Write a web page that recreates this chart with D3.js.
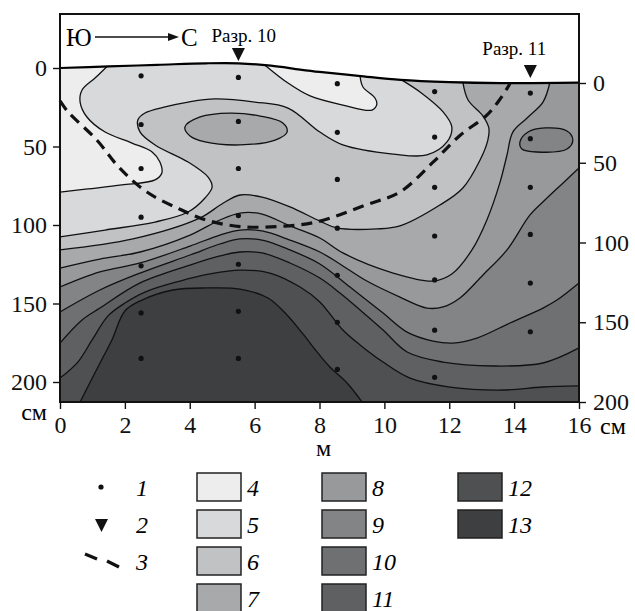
<!DOCTYPE html>
<html>
<head>
<meta charset="utf-8">
<script src="https://cdn.jsdelivr.net/npm/d3@7"></script>
<style>
  body { margin: 0; background: #fff; }
  text { font-family: "Liberation Serif", "DejaVu Serif", serif; }
</style>
</head>
<body>
<script>
// ---- data (x in m, depth in cm) ----
const surface = [[0,0],[1.5,-1],[3,-2],[4.5,-3],[5.5,-3],[6.5,-1.5],[7.4,1],[8,2.5],[9.2,5],[10.5,7.6],[12,9],[13.6,9.6],[16,9.3]];

// isolines between classes
const iso45 = [[1.45,-1],[1.08,6.4],[0.68,14],[0.62,21.7],[0.83,31.2],[1.39,40.8],[2.22,47.8],[2.84,53.5],[3.08,59.9],[3.14,66.9],[2.93,71.3],[1.91,74.5],[0.86,77],[0,79]];
const patch4 = [[6.32,-1.8],[7.03,9.6],[7.71,17.8],[8.72,23.6],[9.62,26.8],[9.77,22.9],[9.71,19.1],[9.34,12.1],[9.25,5.1]];
const iso56 = [[0,107.6],[1.39,103.2],[2.93,98.1],[3.95,91.7],[4.47,82.8],[4.69,75.8],[4.56,69.4],[3.95,59.9],[2.93,49],[2.47,40.8],[2.4,33.1],[2.62,28.7],[3.24,24.8],[3.95,21.7],[4.78,19.7],[6.01,21.7],[7.03,25.5],[8.01,40.8],[8.72,49],[10.27,54.8],[11.31,55.4],[11.93,47.1],[12.08,37.6],[11.81,28],[11.1,15.3],[10.54,7.7]];
const island7 = [[3.85,37.6],[4.32,31.2],[5.24,28.7],[6.17,30.6],[6.87,35],[7,40.8],[6.63,45.9],[5.55,49],[4.47,47.1],[4.01,43.3]];
const iso67 = [[0,115.9],[2.25,108.9],[4.32,95.5],[4.99,86.6],[5.55,80.9],[6.23,82.2],[7.09,88.5],[8.01,97.5],[8.54,101.9],[9.77,102.5],[10.48,100.6],[11.71,87.3],[12.42,76.4],[12.95,58.6],[13.19,45.9],[13.22,38.2],[13.04,30.6],[12.58,20.4],[12.42,9.2]];
const iso78 = [[0,127.4],[1.23,121.7],[2.47,117.2],[4.01,106.4],[4.93,96.8],[5.55,92.4],[6.23,93],[7.09,100.6],[8.01,108.3],[8.72,117.8],[10.27,130.6],[11.5,135.7],[12.08,131.2],[12.7,115.9],[13.16,96.8],[13.56,73.2],[13.78,55.4],[13.96,40.8],[14.4,31.8],[14.89,21.7],[15.1,9.4]];
const island9 = [[14.18,47.1],[14.43,40.8],[14.95,38.2],[15.63,40.1],[15.81,45.9],[15.63,51.6],[14.7,53.5],[14.24,51.6]];
const iso89 = [[0,139.5],[1.23,129.9],[2.47,124.2],[4.01,113.4],[4.93,106.4],[5.55,103.2],[6.23,103.8],[7.09,109.6],[8.01,117.2],[8.63,124.8],[9.46,135.7],[10.48,145.9],[11.31,152.9],[11.81,152.2],[12.33,146.5],[13.04,131.8],[13.78,115.9],[14.49,93.6],[14.95,84.1],[15.51,73.2],[16,63.7]];
const iso910 = [[0,155.4],[1.23,141.4],[2.47,130.6],[4.01,119.1],[4.93,112.1],[5.55,108.9],[6.23,109.6],[7.09,115.9],[8.01,124.8],[8.94,139.5],[9.96,156.1],[10.7,168.2],[11.5,173.9],[12.11,175.2],[12.85,172],[13.87,162.4],[14.89,152.9],[15.32,147.8],[16,136.9]];
const iso1011 = [[0,175.2],[0.68,160.5],[1.23,152.9],[2.47,136.9],[4.01,125.5],[4.93,119.7],[5.55,117.2],[6.23,117.8],[7.09,124.2],[8.01,133.8],[8.63,143.3],[9.25,154.1],[9.96,166.9],[10.7,180.9],[11.81,187.3],[13.35,189.8],[14.89,187.9],[16,178.3]];
const iso1112 = [[0,197.5],[0.55,187.3],[0.99,173.2],[1.48,157.9],[2,149.7],[2.62,142.7],[3.7,135.7],[4.62,131.2],[5.55,128.7],[6.47,130.6],[7.4,139.5],[8.01,149],[8.72,166.9],[9.25,176.4],[9.96,187.3],[10.79,197.5],[12.02,203.2],[13.66,205.1],[14.89,203.2],[16,202.5]];
const iso1213 = [[0.62,212.7],[1.17,190.4],[1.6,173.2],[2,154.8],[2.53,147.8],[3.48,141.4],[4.53,140.1],[5.55,140.8],[6.41,146.5],[6.97,156.7],[7.49,169.4],[7.95,181.5],[8.32,190.4],[8.85,200.6],[9.31,212.7]];

const boundary = [[0,21],[0.25,28],[1.14,46],[1.85,64],[2.68,79],[3.7,90],[4.53,97],[5.55,101],[6.69,101],[7.92,98],[9.46,87],[10.48,79],[11.5,60],[12.33,43],[13.16,30],[13.56,20],[13.87,10]];

const sampleX = [2.5, 5.5, 8.55, 11.55, 14.5];
const sampleDepths = [
  [5, 36, 64, 95, 126, 156, 185],
  [6, 34, 64, 94, 125, 155, 185],
  [10, 41, 71, 102, 132, 162, 192],
  [15, 44, 76, 107, 135, 167, 197],
  [16, 45, 76, 106, 137, 168]
];
const profileNames = ['Разр. 10', 'Разр. 11'];
const profileX = [5.5, 14.5];
const profileTip = [-4.5, 6.4];

const classes = [4,5,6,7,8,9,10,11,12,13];
const classColors = ['#ededed','#d8d9db','#c1c2c4','#a8a9ab','#98999b','#838486','#6f7072','#5f6062','#4f5052','#3e3f41'];
const xTicks = [0,2,4,6,8,10,12,14,16];
const yTicks = [0,50,100,150,200];

// ---- layout ----
const W = 635, H = 611;
const svg = d3.select('body').append('svg').attr('width', W).attr('height', H);
const x = d3.scaleLinear().domain([0,16]).range([60,579]);
const y = d3.scaleLinear().domain([0,200]).range([68,382]);
const yR = d3.scaleLinear().domain([0,200]).range([83,402]);
const topD = y.invert(14), botD = y.invert(402);
const col = k => classColors[classes.indexOf(k)];

const lineGen = d3.line().x(d => x(d[0])).y(d => y(d[1])).curve(d3.curveCatmullRom.alpha(0.5));
const closedGen = d3.line().x(d => x(d[0])).y(d => y(d[1])).curve(d3.curveCatmullRomClosed.alpha(0.5));

// smooth boundary + straight closing legs
function region(pts, extra){
  let p = lineGen(pts);
  extra.forEach(e => { p += 'L' + x(e[0]) + ',' + y(e[1]); });
  return p + 'Z';
}
const last = a => a[a.length-1];

const g = svg.append('g');
// base class 5
g.append('rect').attr('x', x(0)).attr('y', y(topD)).attr('width', x(16)-x(0)).attr('height', y(botD)-y(topD)).attr('fill', col(5));
g.append('path').attr('d', region(iso45, [[0,topD],[iso45[0][0],topD]])).attr('fill', col(4));
g.append('path').attr('d', region(patch4, [[last(patch4)[0],topD],[patch4[0][0],topD]])).attr('fill', col(4));
g.append('path').attr('d', region(iso56, [[last(iso56)[0],topD],[16,topD],[16,botD],[0,botD]])).attr('fill', col(6));
g.append('path').attr('d', closedGen(island7)).attr('fill', col(7));
g.append('path').attr('d', region(iso67, [[last(iso67)[0],topD],[16,topD],[16,botD],[0,botD]])).attr('fill', col(7));
g.append('path').attr('d', region(iso78, [[last(iso78)[0],topD],[16,topD],[16,botD],[0,botD]])).attr('fill', col(8));
g.append('path').attr('d', closedGen(island9)).attr('fill', col(9));
g.append('path').attr('d', region(iso89, [[16,botD],[0,botD]])).attr('fill', col(9));
g.append('path').attr('d', region(iso910, [[16,botD],[0,botD]])).attr('fill', col(10));
g.append('path').attr('d', region(iso1011, [[16,botD],[0,botD]])).attr('fill', col(11));
g.append('path').attr('d', region(iso1112, [[16,botD],[0,botD]])).attr('fill', col(12));
g.append('path').attr('d', region(iso1213, [])).attr('fill', col(13));

// white above ground surface
g.append('path').attr('d', region(surface, [[16,topD],[0,topD]])).attr('fill', '#fff');

// isolines
const openLines = [iso45, patch4, iso56, iso67, iso78, iso89, iso910, iso1011, iso1112, iso1213];
g.selectAll('path.iso').data(openLines).enter().append('path').attr('class','iso')
  .attr('d', lineGen).attr('fill','none').attr('stroke','#111').attr('stroke-width',1.3);
g.selectAll('path.isl').data([island7, island9]).enter().append('path').attr('class','isl')
  .attr('d', closedGen).attr('fill','none').attr('stroke','#111').attr('stroke-width',1.3);

// surface
g.append('path').attr('d', lineGen(surface)).attr('fill','none').attr('stroke','#000').attr('stroke-width',2.2);

// dashed boundary
g.append('path').attr('d', lineGen(boundary)).attr('fill','none').attr('stroke','#111')
  .attr('stroke-width',3.2).attr('stroke-dasharray','11,7');

// sample points
sampleX.forEach((sx,i) => {
  g.selectAll(null).data(sampleDepths[i]).enter().append('circle')
    .attr('cx', x(sx)).attr('cy', d => y(d)).attr('r', 2.6).attr('fill','#111');
});

// profiles
const labelOffset = [[-27,-19],[-48,-23]];
profileX.forEach((px,i) => {
  const cx = x(px), ty = y(profileTip[i]);
  g.append('path').attr('d', `M${cx-6.5},${ty-13}L${cx+6.5},${ty-13}L${cx},${ty}Z`).attr('fill','#111');
  g.append('text').attr('x', cx + labelOffset[i][0]).attr('y', ty + labelOffset[i][1])
    .attr('font-size', 19).text(profileNames[i]);
});

// direction
svg.append('text').attr('x', 66).attr('y', 46).attr('font-size', 25).text('Ю');
svg.append('line').attr('x1', 95).attr('x2', 171).attr('y1', 37).attr('y2', 37).attr('stroke','#111').attr('stroke-width',1.3);
svg.append('path').attr('d','M168,33L179,37L168,41Z').attr('fill','#111');
svg.append('text').attr('x', 181).attr('y', 46).attr('font-size', 25).text('С');

// frame
svg.append('rect').attr('x', x(0)).attr('y', y(topD)).attr('width', x(16)-x(0)).attr('height', y(botD)-y(topD))
  .attr('fill','none').attr('stroke','#111').attr('stroke-width',2);

// axes
function styleAxis(sel){
  sel.select('.domain').remove();
  sel.selectAll('.tick line').attr('stroke','#111').attr('stroke-width',1.4);
  sel.selectAll('.tick text').attr('font-size',24).attr('fill','#111');
}
svg.append('g').attr('transform', `translate(${x(0)},0)`)
  .call(d3.axisLeft(y).tickValues(yTicks).tickSize(7).tickPadding(6)).call(styleAxis);
svg.append('g').attr('transform', `translate(${x(16)},0)`)
  .call(d3.axisRight(yR).tickValues(yTicks).tickSize(7).tickPadding(7)).call(styleAxis);
svg.append('g').attr('transform', `translate(0,${y(botD)})`)
  .call(d3.axisBottom(x).tickValues(xTicks).tickSize(7).tickPadding(7)).call(styleAxis);

svg.append('text').attr('x', 47).attr('y', 420).attr('text-anchor','end').attr('font-size',24).text('см');
svg.append('text').attr('x', 600).attr('y', 434).attr('font-size',24).text('см');
svg.append('text').attr('x', (x(0)+x(16))/2 + 4).attr('y', 456).attr('text-anchor','middle').attr('font-size',24).text('м');

// legend
const legTop = [473, 510, 547, 584];
const lg = svg.append('g');
lg.append('circle').attr('cx',101).attr('cy',legTop[0]+14).attr('r',2.6).attr('fill','#111');
lg.append('path').attr('d',`M95,${legTop[1]+9}L108,${legTop[1]+9}L101.5,${legTop[1]+22}Z`).attr('fill','#111');
lg.append('line').attr('x1',85).attr('y1',legTop[2]+7).attr('x2',97).attr('y2',legTop[2]+12).attr('stroke','#111').attr('stroke-width',3.2);
lg.append('line').attr('x1',107).attr('y1',legTop[2]+14).attr('x2',119).attr('y2',legTop[2]+20).attr('stroke','#111').attr('stroke-width',3.2);
['1','2','3'].forEach((t,i) => {
  lg.append('text').attr('x',136).attr('y',legTop[i]+23).attr('font-size',24).attr('font-style','italic').text(t);
});
const legCols = [197, 322, 458];
classes.forEach((k,i) => {
  const c = i < 4 ? 0 : (i < 8 ? 1 : 2);
  const r = i < 4 ? i : (i < 8 ? i-4 : i-8);
  lg.append('rect').attr('x', legCols[c]).attr('y', legTop[r]).attr('width',44).attr('height',28)
    .attr('fill', classColors[i]).attr('stroke','#222').attr('stroke-width',1.5);
  lg.append('text').attr('x', legCols[c]+50).attr('y', legTop[r]+23).attr('font-size',24)
    .attr('font-style','italic').text(k);
});
</script>
</body>
</html>
